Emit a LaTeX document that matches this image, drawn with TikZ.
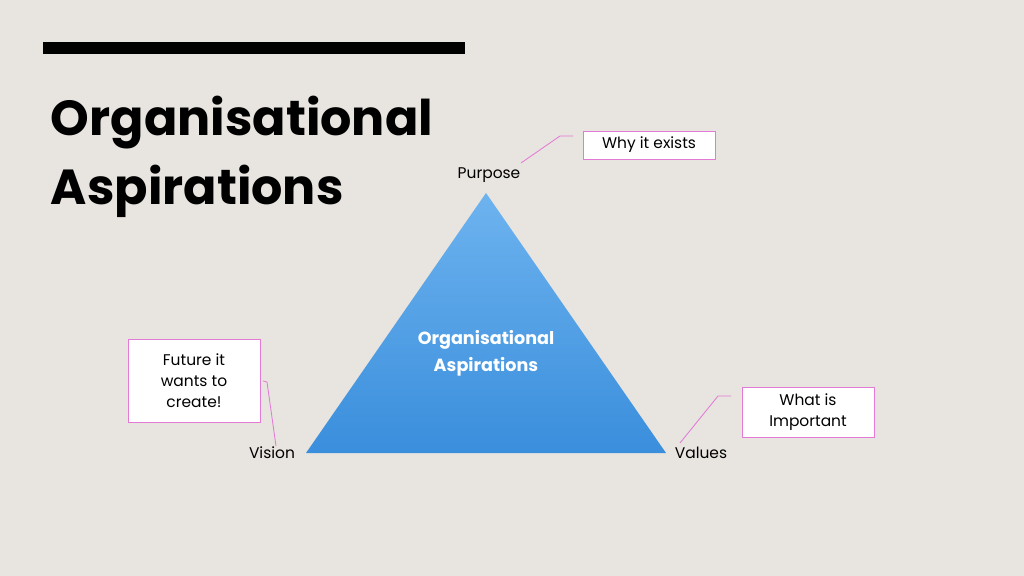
\documentclass[tikz,border=0pt]{standalone}
\usepackage{fontspec}
\setmainfont{Poppins}
\definecolor{slidebg}{HTML}{E8E4E0}
\definecolor{calloutpink}{HTML}{E27AD6}
\definecolor{triTop}{HTML}{6DB3EF}
\definecolor{triBottom}{HTML}{3A8EDC}
\tikzset{
    note/.style={draw=calloutpink, fill=white, line width=0.6pt, minimum width=3.3cm, align=center, font=\fontsize{11}{15}\selectfont},
    corner/.style={font=\fontsize{11}{13}\selectfont},
    leader/.style={draw=calloutpink, line width=0.6pt}
}
\begin{document}
\begin{tikzpicture}[x=0.025cm, y=-0.025cm]
    \fill[slidebg] (0, 0) rectangle (1024, 576);
    \useasboundingbox (0, 0) rectangle (1024, 576);
    \fill[black] (43, 42) rectangle (465, 54);
    \node[anchor=west, align=left, font=\fontsize{35}{49}\selectfont\bfseries] (title) at (46, 157) {Organisational\\Aspirations};
    % triangle
    \coordinate (apex) at (486, 193);
    \coordinate (bl) at (306, 453);
    \coordinate (br) at (666, 453);
    \shade[top color=triTop, bottom color=triBottom] (apex) -- (br) -- (bl) -- cycle;
    \node[text=white, align=center, font=\fontsize{12.5}{19}\selectfont\bfseries] (inner) at (486, 353) {Organisational\\Aspirations};
    \node[corner] (purpose) at (489, 175) {Purpose};
    \node[corner] (vision) at (272, 453) {Vision};
    \node[corner] (values) at (701, 453) {Values};
    % callouts
    \node[note, minimum height=0.7cm] (why) at (649, 145) {Why it exists};
    \node[note, minimum height=2.07cm] (future) at (194, 381) {Future it\\wants to\\create!};
    \node[note, minimum height=1.25cm] (what) at (808, 412) {What is\\Important};
    \coordinate (p1) at (521, 163);
    \coordinate (p2) at (560, 136);
    \coordinate (p3) at (573, 136);
    \draw[leader] (p1) -- (p2) -- (p3);
    \coordinate (v1) at (276, 446);
    \coordinate (v2) at (267, 382);
    \coordinate (v3) at (263, 381);
    \draw[leader] (v1) -- (v2) -- (v3);
    \coordinate (w1) at (680, 443);
    \coordinate (w2) at (718, 396);
    \coordinate (w3) at (731, 396);
    \draw[leader] (w1) -- (w2) -- (w3);
\end{tikzpicture}
\end{document}
